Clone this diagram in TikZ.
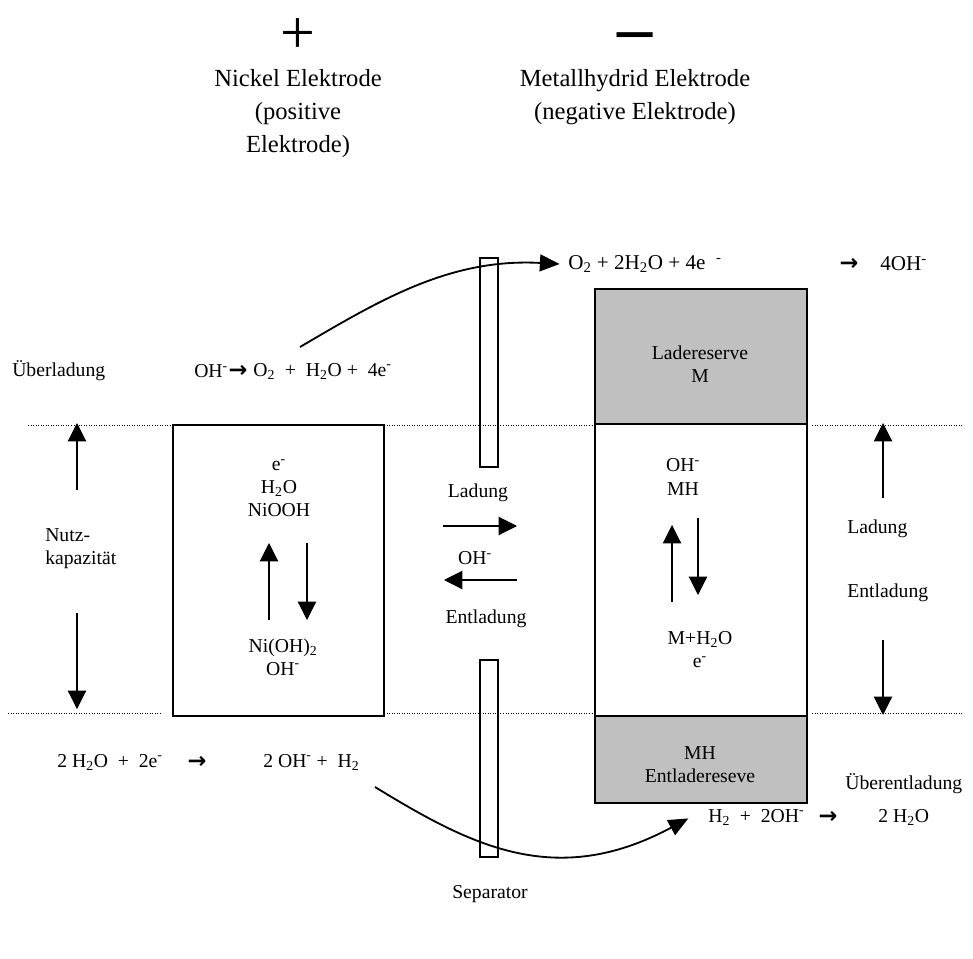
\documentclass[tikz,border=0pt]{standalone}
\usepackage{fontspec}
\setmainfont{Liberation Serif}
\newfontfamily\pfeilfont{DejaVu Sans}
\usepackage{tikz}
\usetikzlibrary{arrows.meta,positioning}
\definecolor{reservegrau}{RGB}{192,192,192}
\newcommand{\rpfeil}{{\pfeilfont\bfseries\fontsize{16}{16}\selectfont →}}
\newcommand{\ladneg}{\textsuperscript{-}}
\newcommand{\idx}[1]{\textsubscript{#1}}
\tikzset{
    txt/.style={font=\fontsize{14}{16.4}\selectfont, inner sep=0pt, align=center},
    kopf/.style={font=\fontsize{17.5}{23.5}\selectfont, inner sep=0pt, align=center},
    elektrode/.style={line width=1pt, fill=white},
    reserve/.style={line width=1pt, fill=reservegrau},
    sepbox/.style={line width=0.8pt},
    % Pfeile
    pfeil/.style={
        line width=0.8pt,
        -{Triangle[length=13pt, width=13pt]}
    },
    bogen/.style={
        line width=1.3pt,
        -{Triangle[length=14pt, width=12pt]}
    },
    grenze/.style={line width=0.6pt, dash pattern=on 0.6pt off 1.2pt}
}

\begin{document}
\begin{tikzpicture}[x=0.025cm, y=-0.025cm]
\useasboundingbox (0,0) rectangle (973,959);

% ===================== Koordinaten =====================
\path
    (173,425) coordinate (nk1)
    (384,716) coordinate (nk2)
    (595,289) coordinate (mh1)
    (807,424) coordinate (mh2)
    (807,716) coordinate (mh3)
    (807,803) coordinate (mh4)
    (480,258) coordinate (s1)
    (498,467) coordinate (s2)
    (480,660) coordinate (s3)
    (498,857) coordinate (s4)
    ;

% Grenzlinien (gepunktet)
\draw[grenze] (28,425) -- (nk1);
\draw[grenze] (384,425) -- (595,425);
\draw[grenze] (812,425) -- (963,425);
\draw[grenze] (8,713) -- (162,713);
\draw[grenze] (384,713) -- (595,713);
\draw[grenze] (812,713) -- (963,713);

% Elektroden
\draw[elektrode] (nk1) rectangle (nk2);
\draw[reserve] (mh1) rectangle (mh2);
\draw[elektrode] (595,424) rectangle (mh3);
\draw[reserve] (595,716) rectangle (mh4);

% Separator
\draw[sepbox] (s1) rectangle (s2);
\draw[sepbox] (s3) rectangle (s4);

% ===================== Texte =====================
\node[anchor=base, font=\fontsize{44}{44}\selectfont, inner sep=0pt] (plus) at (298,54) {+};
\node[anchor=base, font=\fontsize{50}{50}\selectfont\bfseries, inner sep=0pt] (minus) at (635,52) {–};
\node[kopf] (nickel) at (298,114) {Nickel Elektrode\\(positive\\Elektrode)};
\node[kopf] (metall) at (635,97) {Metallhydrid Elektrode\\(negative Elektrode)};

\node[txt, anchor=west, font=\fontsize{15}{17}\selectfont] (oeq1) at (568,264) {O\idx{2} + 2H\idx{2}O + 4e \ \ladneg};
\node[txt] (oeqp) at (849,264) {\rpfeil};
\node[txt, anchor=west, font=\fontsize{15}{17}\selectfont] (oeq2) at (880,264) {4OH\ladneg};

\node[txt, anchor=west] (ueber) at (12,371) {Überladung};
\node[txt, anchor=west] (ueq1) at (194,371) {OH\ladneg};
\node[txt] (ueqp) at (238,371) {\rpfeil};
\node[txt, anchor=west] (ueq2) at (253,371) {O\idx{2}\ \ + \ H\idx{2}O + \ 4e\ladneg};

\node[txt, align=left, anchor=west] (nutz) at (45,549) {Nutz-\\kapazität};

\node[txt] (nioben) at (279,488) {e\ladneg\\H\idx{2}O\\NiOOH};
\node[txt] (niunten) at (283,657) {Ni(OH)\idx{2}\\OH\ladneg};

\node[txt] (ladm) at (478,493) {Ladung};
\node[txt] (ohm) at (475,558) {OH\ladneg};
\node[txt] (entm) at (486,619) {Entladung};

\node[txt] (ladres) at (700,364) {Ladereserve\\M};
\node[txt] (mhoben) at (683,477) {OH\ladneg\\MH};
\node[txt] (mhunten) at (700,650) {M+H\idx{2}O\\e\ladneg};
\node[txt] (entres) at (700,765) {MH\\Entladereseve};

\node[txt, anchor=west] (ladr) at (847,529) {Ladung};
\node[txt, anchor=west] (entr) at (847,593) {Entladung};
\node[txt, anchor=west] (uebent) at (845,784) {Überentladung};

\node[txt, anchor=west] (heq1) at (57,762) {2 H\idx{2}O \ + \ 2e\ladneg};
\node[txt] (heqp) at (197,762) {\rpfeil};
\node[txt, anchor=west] (heq2) at (263,762) {2 OH\ladneg\ + \ H\idx{2}};

\node[txt, anchor=west] (reeq1) at (708,817) {H\idx{2} \ + \ 2OH\ladneg};
\node[txt] (reeqp) at (828,817) {\rpfeil};
\node[txt, anchor=west] (reeq2) at (878,817) {2 H\idx{2}O};

\node[txt] (sep) at (490,894) {Separator};

% ===================== Pfeile =====================
\path
    (77,490) coordinate (n1) (77,423) coordinate (n2)
    (77,613) coordinate (n3) (77,709) coordinate (n4)
    (269,620) coordinate (a1) (269,543) coordinate (a2)
    (307,543) coordinate (a3) (307,620) coordinate (a4)
    (443,526) coordinate (m1) (517,526) coordinate (m2)
    (517,580) coordinate (m3) (444,580) coordinate (m4)
    (672,602) coordinate (b1) (672,525) coordinate (b2)
    (698,518) coordinate (b3) (698,595) coordinate (b4)
    (883,498) coordinate (r1) (883,423) coordinate (r2)
    (883,640) coordinate (r3) (883,715) coordinate (r4)
    (300,347) coordinate (o2start)
    (375,787) coordinate (h2start)
    ;

\draw[pfeil] (n1) -- (n2);
\draw[pfeil] (n3) -- (n4);
\draw[pfeil] (a1) -- (a2);
\draw[pfeil] (a3) -- (a4);
\draw[pfeil] (m1) -- (m2);
\draw[pfeil] (m3) -- (m4);
\draw[pfeil] (b1) -- (b2);
\draw[pfeil] (b3) -- (b4);
\draw[pfeil] (r1) -- (r2);
\draw[pfeil] (r3) -- (r4);

% Sauerstoff / Wasserstoff
\draw[bogen] (o2start) .. controls (380,300) and (450,258) .. ([xshift=-6pt]oeq1.west);
\draw[bogen] (h2start) .. controls (470,845) and (555,890) .. ([xshift=-14pt,yshift=-1pt]reeq1.west);

\end{tikzpicture}
\end{document}
